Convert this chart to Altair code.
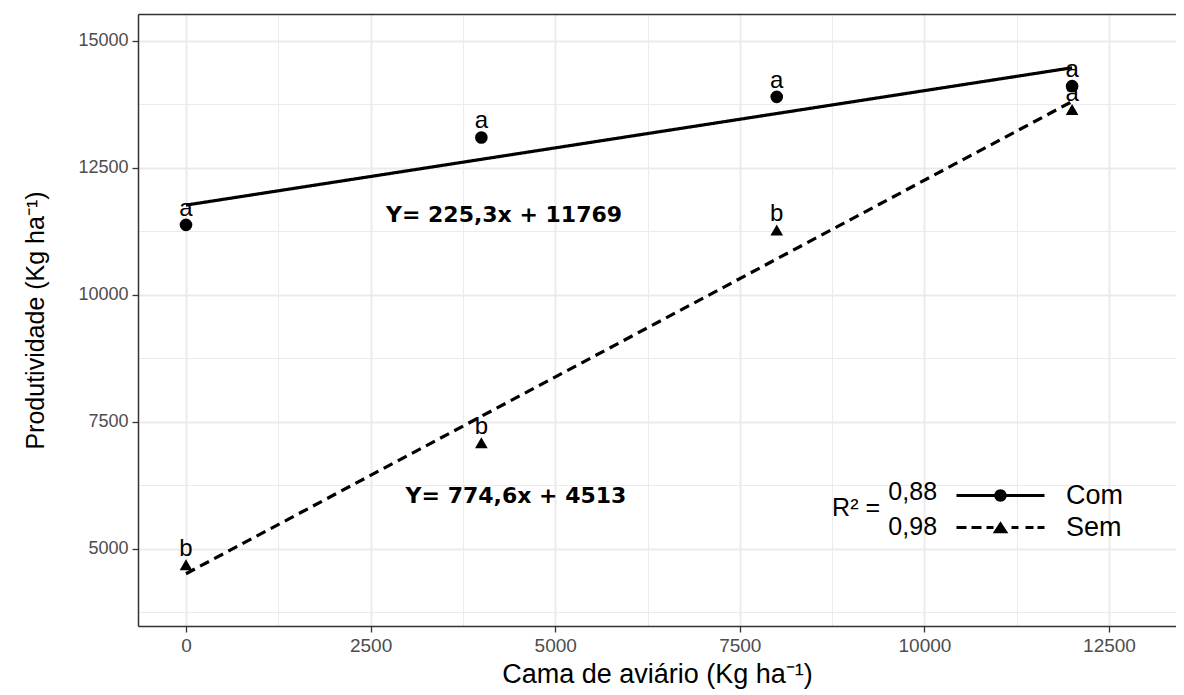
import altair as alt
import pandas as pd

# ---- data ----
doses = [0, 4000, 8000, 12000]
com_vals = [11380, 13100, 13900, 14110]
sem_vals = [4690, 7090, 11280, 13650]
com_letters = ["a", "a", "a", "a"]
sem_letters = ["b", "b", "b", "a"]
groups = ["Com", "Sem"]

fit_x = [0, 12000]
com_fit = [11769, 14473]
sem_fit = [4513, 13808]

equations = ["Y= 225,3x + 11769", "Y= 774,6x + 4513"]
eq_x = [4307, 4469]
eq_y = [11575, 6043]

r2_label = "R² ="
r2_vals = ["0,88", "0,98"]

x_ticks = [0, 2500, 5000, 7500, 10000, 12500]
y_ticks = [5000, 7500, 10000, 12500, 15000]
x_minor = [1250, 3750, 6250, 8750, 11250]
y_minor = [3750, 6250, 8750, 11250, 13750]

# ---- tables ----
pts = pd.DataFrame({
    "dose": doses * 2,
    "prod": com_vals + sem_vals,
    "grupo": ["Com"] * 4 + ["Sem"] * 4,
    "letra": com_letters + sem_letters,
})
fit = pd.DataFrame({
    "dose": fit_x * 2,
    "prod": com_fit + sem_fit,
    "grupo": ["Com"] * 2 + ["Sem"] * 2,
})
eqs = pd.DataFrame({"x": eq_x, "y": eq_y, "t": equations})
r2 = pd.DataFrame({"x": [9399, 10171, 10171], "y": [5807, 6122, 5433],
                   "t": [r2_label] + r2_vals})

xs = alt.Scale(domain=[-650, 13407], nice=False, zero=False)
ys = alt.Scale(domain=[3484, 15531], nice=False, zero=False)
dash_scale = alt.Scale(domain=groups, range=[[1, 0], [10, 6]])

BORDER = "#333333"
GRID = "#ebebeb"
LBL = "#4d4d4d"
SANS = "Liberation Sans, Arial"

x_major = alt.Axis(values=x_ticks, format="d", orient="bottom",
                   labelFont=SANS, labelFontSize=19, labelColor=LBL,
                   labelPadding=4, tickSize=6, tickColor=BORDER, tickWidth=1.3,
                   domainColor=BORDER, domainWidth=1.5,
                   grid=True, gridColor=GRID, gridWidth=2,
                   title="Cama de aviário  (Kg ha⁻¹)", titleFont=SANS,
                   titleFontSize=27, titleFontWeight="normal", titleColor="black",
                   titlePadding=6)
y_major = alt.Axis(values=y_ticks, format="d", orient="left",
                   labelFont=SANS, labelFontSize=18, labelColor=LBL,
                   labelPadding=4, tickSize=6, tickColor=BORDER, tickWidth=1.3,
                   domainColor=BORDER, domainWidth=1.5,
                   grid=True, gridColor=GRID, gridWidth=2,
                   title="Produtividade (Kg ha⁻¹)", titleFont=SANS,
                   titleFontSize=25, titleFontWeight="normal", titleColor="black",
                   titlePadding=29)
x_min_ax = alt.Axis(values=x_minor, orient="top", labels=False, ticks=False,
                    domain=True, domainColor=BORDER, domainWidth=1.5,
                    grid=True, gridColor=GRID, gridWidth=1, title=None)
y_min_ax = alt.Axis(values=y_minor, orient="right", labels=False, ticks=False,
                    domain=False, grid=True, gridColor=GRID, gridWidth=1, title=None)

lines = alt.Chart(fit).mark_line(color="black", strokeWidth=3.2).encode(
    x=alt.X("dose:Q", scale=xs, axis=x_major),
    y=alt.Y("prod:Q", scale=ys, axis=y_major),
    strokeDash=alt.StrokeDash("grupo:N", scale=dash_scale, legend=None),
    detail="grupo:N",
)

points = alt.Chart(pts).mark_point(filled=True, color="black", opacity=1, size=160).encode(
    x=alt.X("dose:Q", scale=xs, axis=x_min_ax),
    y=alt.Y("prod:Q", scale=ys, axis=y_min_ax),
    shape=alt.Shape("grupo:N", scale=alt.Scale(domain=groups, range=["circle", "triangle-up"]),
                    legend=None),
)

letters = alt.Chart(pts).mark_text(font=SANS, fontSize=24, dy=-16, baseline="middle",
                                   color="black").encode(
    x=alt.X("dose:Q", scale=xs, axis=None),
    y=alt.Y("prod:Q", scale=ys, axis=None),
    text="letra:N",
)

eq_text = alt.Chart(eqs).mark_text(font="DejaVu Sans", fontWeight="bold", fontSize=22,
                                   color="black", baseline="middle").encode(
    x=alt.X("x:Q", scale=xs, axis=None),
    y=alt.Y("y:Q", scale=ys, axis=None),
    text="t:N",
)

r2_text = alt.Chart(r2).mark_text(font=SANS, fontSize=25, color="black", align="right",
                                  baseline="middle").encode(
    x=alt.X("x:Q", scale=xs, axis=None),
    y=alt.Y("y:Q", scale=ys, axis=None),
    text="t:N",
)

# legend key glyphs (unit = 10 px at symbolSize 400): filled bar / dashes + marker
def bar(a, b, h=0.15):
    return f"M{a},{-h}H{b}V{h}H{a}Z"

com_path = bar(-4.4, 4.4) + "M0.62,0A0.62,0.62,0,1,1,-0.62,0A0.62,0.62,0,1,1,0.62,0Z"
sem_path = "".join(bar(a, b) for a, b in [(-4.4, -3.4), (-2.9, -1.9), (-1.4, -0.7),
                                          (1.1, 1.8), (2.5, 3.3), (3.7, 4.4)]) \
    + "M0,-0.62L0.78,0.58L-0.78,0.58Z"

leg = alt.Legend(orient="none", legendX=849, legendY=468, title=None,
                 symbolSize=400, labelFontSize=27, labelFont=SANS, labelColor="black",
                 labelOffset=52, rowPadding=4, padding=0,
                 symbolStrokeWidth=0, symbolFillColor="black")
legend_layer = alt.Chart(pts).transform_filter("datum.dose < 0").mark_point(
    filled=True, color="black", opacity=1).encode(
    x=alt.X("dose:Q", scale=xs, axis=None),
    y=alt.Y("prod:Q", scale=ys, axis=None),
    shape=alt.Shape("grupo:N", scale=alt.Scale(domain=groups, range=[com_path, sem_path]),
                    legend=leg),
)

chart = alt.layer(lines, points, letters, eq_text, r2_text, legend_layer).resolve_scale(
    shape="independent"
).resolve_axis(x="independent", y="independent").properties(
    width=1038, height=612,
    autosize=alt.AutoSizeParams(type="none"),
    padding={"left": 130, "top": 6, "right": 0, "bottom": 64},
).configure_view(strokeWidth=0).configure(background="white")

chart.save("out.html", embed_options={"renderer": "svg", "actions": False})
